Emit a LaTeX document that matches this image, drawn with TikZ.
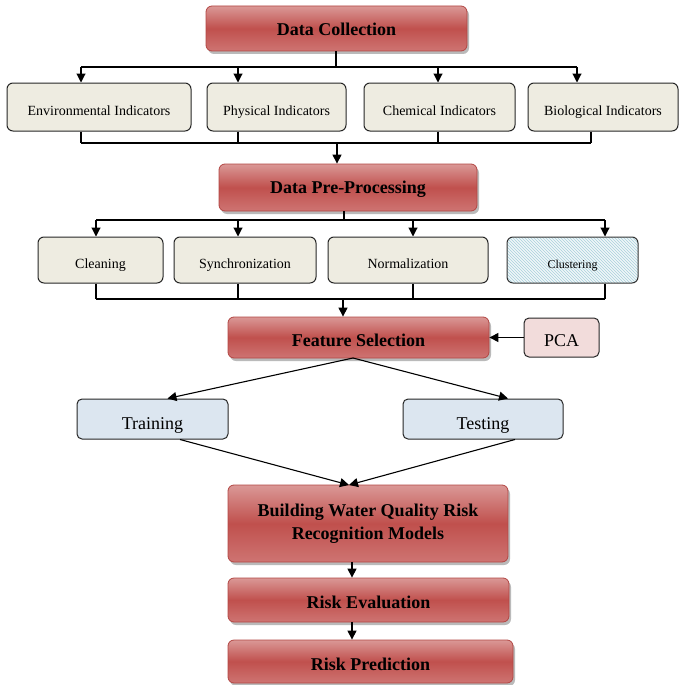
\documentclass[tikz,border=0pt]{standalone}
\usepackage{fontspec}
\setmainfont{Liberation Serif}
\usetikzlibrary{arrows.meta,shadows,patterns}

\definecolor{redmid}{HTML}{C0504D}
\definecolor{redlight}{HTML}{DA9896}
\definecolor{redlow}{HTML}{CE7472}
\definecolor{redline}{HTML}{B24643}
\definecolor{cream}{HTML}{EEECE1}
\definecolor{pcafill}{HTML}{F2DCDB}
\definecolor{bluefill}{HTML}{DCE6F0}
\definecolor{hatch}{HTML}{A9D0DC}

\tikzset{
  stage/.style={draw=redline, line width=0.8pt, rounded corners=6pt,
    top color=redlight, bottom color=redlow, middle color=redmid,
    drop shadow={shadow xshift=2pt, shadow yshift=-3pt, fill=black!45, opacity=0.6},
    font=\fontsize{18}{22}\selectfont\bfseries, align=center, inner sep=0pt,
    text height=15pt, text depth=0pt},
  item/.style={draw=black!85, line width=1pt, rounded corners=6pt, fill=cream,
    font=\fontsize{14}{16}\selectfont, inner sep=0pt,
    text height=16pt, text depth=0pt},
  hatchbox/.style={draw=black!80, line width=1pt, rounded corners=6pt,
    preaction={fill=hatch!18}, pattern=north west lines, pattern color=hatch,
    font=\fontsize{12}{14}\selectfont, inner sep=0pt,
    text height=16pt, text depth=0pt},
  side/.style={draw=black!85, line width=1pt, rounded corners=5pt, fill=pcafill,
    font=\fontsize{18}{20}\selectfont, inner sep=0pt,
    text height=17pt, text depth=0pt},
  split/.style={draw=black!85, line width=1pt, rounded corners=5pt, fill=bluefill,
    font=\fontsize{18}{20}\selectfont, inner sep=0pt,
    text height=20pt, text depth=0pt},
  wire/.style={line width=1.1pt, black},
  arr/.style={wire, -{Triangle[length=9pt,width=9pt]}},
}

\begin{document}
\begin{tikzpicture}[x=1pt,y=-1pt]
\useasboundingbox (0,0) rectangle (679,685);

% stage 1: data collection and its indicator groups
\node[stage, minimum width=261pt, minimum height=45pt] (dc) at (336.5,28.5) {Data Collection};
\node[item, minimum width=184pt, minimum height=48pt] (env)  at (99,107)    {Environmental Indicators};
\node[item, minimum width=139pt, minimum height=48pt] (phys) at (276.5,107)  {Physical Indicators};
\node[item, minimum width=151pt, minimum height=48pt] (chem) at (439.5,107)  {Chemical Indicators};
\node[item, minimum width=150pt, minimum height=48pt] (bio)  at (603,107)    {Biological Indicators};

% stage 2: pre-processing and its steps
\node[stage, minimum width=258pt, minimum height=47pt, text height=12pt] (pre) at (348,187.5) {Data Pre-Processing};
\node[item, minimum width=125pt, minimum height=46pt] (clean) at (100.5,260) {Cleaning};
\node[item, minimum width=142pt, minimum height=46pt] (sync)  at (245,260)   {Synchronization};
\node[item, minimum width=160pt, minimum height=46pt] (norm)  at (408,260)   {Normalization};
\node[hatchbox, minimum width=131pt, minimum height=46pt] (clus) at (572.5,260) {Clustering};

% stage 3: feature selection and the data split
\node[stage, minimum width=261pt, minimum height=41pt, text height=18pt] (fs) at (358.5,337.5) {Feature Selection};
\node[side, minimum width=75pt, minimum height=39pt] (pca) at (561.5,337.5) {PCA};
\node[split, minimum width=151pt, minimum height=40pt] (train) at (152.5,419) {Training};
\node[split, minimum width=160pt, minimum height=40pt] (test)  at (483,419)   {Testing};

% stage 4: modelling, evaluation and prediction
\node[stage, minimum width=280pt, minimum height=77pt, text height={}, text depth={}] (build) at (368,523.5)
  {Building Water Quality Risk\\[1pt]Recognition Models};
\node[stage, minimum width=281pt, minimum height=44pt, text height=16pt] (eval) at (368.5,600)  {Risk Evaluation};
\node[stage, minimum width=285pt, minimum height=43pt, text height=17pt] (pred) at (370.5,661.5) {Risk Prediction};

% fan-out from data collection
\coordinate (b1) at (336,67);
\coordinate (t1a) at (81,67);
\coordinate (t1b) at (238,67);
\coordinate (t1c) at (438,67);
\coordinate (t1d) at (577,67);
\draw[wire] (dc.south -| b1) -- (b1);
\draw[wire] (t1a) -- (t1d);
\foreach \c/\n in {t1a/env,t1b/phys,t1c/chem,t1d/bio}
  \draw[arr] (\c) -- (\c |- \n.north);

% gathering the indicators
\coordinate (g1a) at (81,143);
\coordinate (g1b) at (238,143);
\coordinate (g1c) at (438,143);
\coordinate (g1d) at (591,143);
\coordinate (g1m) at (337,143);
\draw[wire] (g1a) -- (g1d);
\foreach \c/\n in {g1a/env,g1b/phys,g1c/chem,g1d/bio}
  \draw[wire] (\c |- \n.south) -- (\c);
\draw[arr] (g1m) -- (g1m |- pre.north);

% fan-out from pre-processing
\coordinate (b2) at (344,220);
\coordinate (t2a) at (96,220);
\coordinate (t2b) at (238,220);
\coordinate (t2c) at (413,220);
\coordinate (t2d) at (605,220);
\draw[wire] (pre.south -| b2) -- (b2);
\draw[wire] (t2a) -- (t2d);
\foreach \c/\n in {t2a/clean,t2b/sync,t2c/norm,t2d/clus}
  \draw[arr] (\c) -- (\c |- \n.north);

% gathering the processing steps
\coordinate (g2a) at (96,299);
\coordinate (g2b) at (238,299);
\coordinate (g2c) at (413,299);
\coordinate (g2d) at (605,299);
\coordinate (g2m) at (343,299);
\draw[wire] (g2a) -- (g2d);
\foreach \c/\n in {g2a/clean,g2b/sync,g2c/norm,g2d/clus}
  \draw[wire] (\c |- \n.south) -- (\c);
\draw[arr] (g2m) -- (g2m |- fs.north);

% PCA feeds feature selection
\draw[arr] (pca.west) -- (fs.east |- pca.west);

% split into training and testing
\coordinate (fsout) at (353,358);
\draw[arr] (fsout) -- ([xshift=15pt]train.north);
\draw[arr] (fsout) -- ([xshift=25pt]test.north);

% both sets feed the models
\coordinate (bin) at (349,485);
\draw[arr] ([xshift=27.5pt]train.south) -- (bin);
\draw[arr] ([xshift=32pt]test.south) -- (bin);

% chain to evaluation and prediction
\draw[arr] ([xshift=-16pt]build.south) -- ([xshift=-16.5pt]eval.north);
\draw[arr] ([xshift=-16.5pt]eval.south) -- ([xshift=-18.5pt]pred.north);
\end{tikzpicture}
\end{document}
